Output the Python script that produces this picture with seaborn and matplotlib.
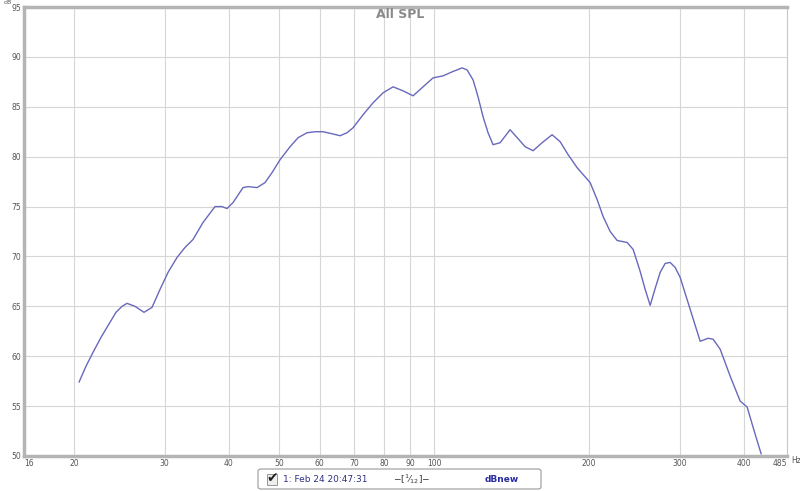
import numpy as np
import pandas as pd
import matplotlib
matplotlib.use("Agg")
import matplotlib.pyplot as plt
import seaborn as sns
from matplotlib.patches import FancyBboxPatch, Rectangle

# frequency (Hz) and SPL (dB)
freq = [20.46, 21.11, 21.79, 22.58, 23.50, 24.14, 24.80, 25.36, 26.28, 27.36,
        28.36, 29.39, 30.46, 31.71, 32.86, 34.06, 35.61, 37.58, 38.77, 39.65,
        40.73, 42.59, 43.56, 45.34, 46.99, 48.49, 50.26, 52.56, 54.47, 56.71,
        58.77, 60.91, 63.40, 65.71, 67.80, 69.65, 72.83, 76.16, 79.65, 83.29,
        87.10, 91.08, 95.24, 99.60, 104.15, 108.42, 113.38, 115.94, 119.09,
        121.78, 124.54, 127.35, 130.24, 134.40, 140.54, 145.66, 150.29, 155.77,
        162.16, 169.57, 175.77, 182.16, 189.63, 200.99, 207.38, 213.02, 219.81,
        226.80, 237.17, 243.62, 251.36, 257.04, 262.85, 268.80, 274.87, 281.09,
        287.43, 293.93, 300.57, 314.32, 328.70, 340.67, 348.35, 359.44, 375.88,
        393.06, 405.55, 418.46, 431.76]
spl = [57.4, 59.0, 60.4, 61.9, 63.4, 64.4, 65.0, 65.3, 65.0, 64.4,
       64.9, 66.7, 68.4, 69.9, 70.9, 71.7, 73.4, 75.0, 75.0, 74.8,
       75.4, 76.9, 77.0, 76.9, 77.4, 78.4, 79.7, 81.0, 81.9, 82.4,
       82.5, 82.5, 82.3, 82.1, 82.4, 82.9, 84.2, 85.4, 86.4, 87.0,
       86.6, 86.1, 87.0, 87.9, 88.1, 88.5, 88.9, 88.7, 87.7,
       86.0, 84.0, 82.4, 81.2, 81.4, 82.7, 81.8, 81.0, 80.6,
       81.4, 82.2, 81.5, 80.2, 78.9, 77.4, 75.7, 74.0, 72.5,
       71.6, 71.4, 70.7, 68.5, 66.7, 65.1, 66.8, 68.4, 69.3,
       69.4, 68.9, 67.9, 64.7, 61.5, 61.8, 61.7, 60.7, 58.0,
       55.5, 54.9, 52.5, 50.2]

xticks = [16, 20, 30, 40, 50, 60, 70, 80, 90, 100, 200, 300, 400, 485]
yticks = [50, 55, 60, 65, 70, 75, 80, 85, 90, 95]

df = pd.DataFrame({"Hz": freq, "dB": spl})

sns.set_style("white")
fig = plt.figure(figsize=(8, 4.91), dpi=100)
ax = fig.add_axes([0.03, 0.0713, 0.954, 0.9144])

sns.lineplot(data=df, x="Hz", y="dB", sort=False, estimator=None,
             color="#6868bc", linewidth=1.0, ax=ax)
ax.set_xscale("log")
ax.set_xlim(16, 485)
ax.set_ylim(50, 95)

grid_x = [20, 30, 40, 50, 60, 70, 80, 90, 100, 200, 300, 400]
for g in grid_x:
    ax.axvline(g, color="#d6d6d6", linewidth=0.8, zorder=0)
for g in yticks[1:-1]:
    ax.axhline(g, color="#d6d6d6", linewidth=0.8, zorder=0)

ax.set_xticks(xticks)
ax.set_xticklabels([str(t) for t in xticks])
ax.xaxis.set_minor_locator(matplotlib.ticker.NullLocator())
ax.set_yticks(yticks)
ax.tick_params(axis="both", length=0, labelsize=5.5, labelcolor="#555555", pad=2)
labels = ax.get_xticklabels()
labels[0].set_horizontalalignment("left")
labels[-1].set_horizontalalignment("right")
ax.set_xlabel("")
ax.set_ylabel("")

for side in ["left", "bottom", "top"]:
    ax.spines[side].set_color("#b4b4b4")
    ax.spines[side].set_linewidth(2.5)
ax.spines["right"].set_color("#c8c8c8")
ax.spines["right"].set_linewidth(0.8)

fig.text(0.5, 1 - 15 / 491, "All SPL", ha="center", va="center",
         fontsize=9, fontweight="bold", color="#8a8a8a")
fig.text(0.004, 0.999, "dB", fontsize=4.5, color="#555555", va="top")
fig.text(0.9885, 0.0625, "Hz", fontsize=5.5, color="#555555", va="center")

# legend strip
box = FancyBboxPatch((258 / 800, 1 - 489 / 491), 283 / 800, 20 / 491,
                     boxstyle="round,pad=0,rounding_size=0.004",
                     transform=fig.transFigure, facecolor="white",
                     edgecolor="#999999", linewidth=0.8)
fig.patches.append(box)
fig.patches.append(Rectangle((267 / 800, 1 - 485 / 491), 10 / 800, 11 / 491,
                             transform=fig.transFigure, facecolor="#eeeeee",
                             edgecolor="#888888", linewidth=0.6))
fig.text(272 / 800, 1 - 478 / 491, "\u2714", fontsize=10, color="#222222",
         ha="center", va="center")
fig.text(283 / 800, 1 - 479 / 491, "1: Feb 24 20:47:31", fontsize=6.5,
         color="#303080", va="center")
fig.text(412 / 800, 1 - 479 / 491, "\u2212[$^1\u2044_{12}$]\u2212", fontsize=6.5,
         color="#333333", ha="center", va="center")
fig.text(502 / 800, 1 - 479 / 491, "dBnew", fontsize=6.5, fontweight="bold",
         color="#2a2aa0", ha="center", va="center")

fig.savefig("out.png", dpi=100)
